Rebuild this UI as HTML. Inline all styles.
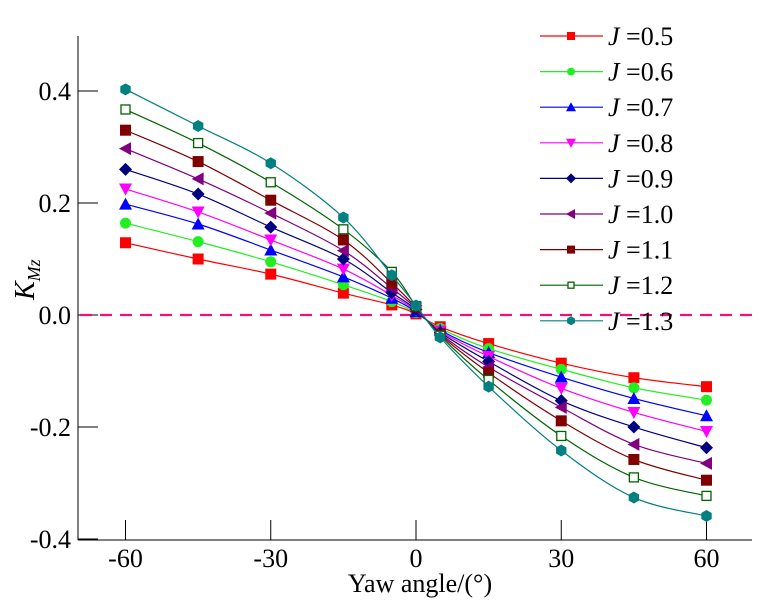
<!DOCTYPE html>
<html><head><meta charset="utf-8"><style>
body{margin:0;background:#fff}
svg{display:block}
text{font-family:"Liberation Serif","DejaVu Serif",serif}
</style></head><body>
<svg id="c" width="771" height="615" viewBox="0 0 771 615" font-family="Liberation Serif, serif"></svg>
<script>
const angles=[-60,-45,-30,-15,-5,0,5,15,30,45,60];
const labels=["0.5","0.6","0.7","0.8","0.9","1.0","1.1","1.2","1.3"];
const s05=[0.129,0.100,0.073,0.039,0.018,0.002,-0.021,-0.051,-0.086,-0.112,-0.128];
const s06=[0.164,0.131,0.095,0.054,0.024,0.004,-0.024,-0.060,-0.097,-0.130,-0.152];
const s07=[0.198,0.1625,0.116,0.068,0.030,0.006,-0.027,-0.067,-0.111,-0.149,-0.180];
const s08=[0.225,0.184,0.134,0.082,0.035,0.008,-0.029,-0.074,-0.131,-0.174,-0.208];
const s09=[0.260,0.216,0.157,0.100,0.040,0.010,-0.031,-0.083,-0.153,-0.200,-0.237];
const s10=[0.297,0.243,0.182,0.115,0.048,0.012,-0.033,-0.093,-0.165,-0.231,-0.265];
const s11=[0.330,0.274,0.205,0.134,0.057,0.014,-0.035,-0.103,-0.189,-0.258,-0.295];
const s12=[0.367,0.307,0.237,0.153,0.077,0.016,-0.037,-0.116,-0.216,-0.290,-0.323];
const s13=[0.403,0.3375,0.271,0.174,0.071,0.017,-0.040,-0.128,-0.242,-0.326,-0.359];
const series=[s05,s06,s07,s08,s09,s10,s11,s12,s13];
const xTicks=[-60,-30,0,30,60];
const yTicks=[0.4,0.2,0.0,-0.2,-0.4];
const yTickLabels=["0.4","0.2","0.0","-0.2","-0.4"];
const colors=["#ff0000","#22ee22","#0000ff","#ff00ff","#000080","#800080","#800000","#006400","#008080"];
const shapes=["square","circle","up","down","diamond","left","square","osquare","hex"];
const X=v=>416+v*(290.5/60);
const Y=v=>315-v*560;
const NS="http://www.w3.org/2000/svg";
const svg=document.getElementById('c');
function mk(t,a,p){const e=document.createElementNS(NS,t);for(const k in a)e.setAttribute(k,a[k]);(p||svg).appendChild(e);return e;}
let ax=mk('line',{x1:78,y1:36,x2:78,y2:540,stroke:'#000','stroke-width':1});


let bx=mk('line',{x1:78,y1:540,x2:752,y2:540,stroke:'#000','stroke-width':1});


xTicks.forEach(t=>{
 const l=mk('line',{x1:X(t),y1:540,x2:X(t),y2:520,stroke:'#000'});
 
 
 const tx=mk('text',{x:X(t),y:567,'text-anchor':'middle','font-size':26});
 tx.textContent=t;
 
 
});
yTicks.forEach((t,i)=>{
 const l=mk('line',{x1:78,y1:Y(t),x2:98,y2:Y(t),stroke:'#000'});
 
 
 const tx=mk('text',{x:71,y:Y(t)+9,'text-anchor':'end','font-size':26});
 tx.textContent=yTickLabels[i];
 
 
});
let zl=mk('line',{x1:80,y1:Y(0),x2:752,y2:Y(0),stroke:'#ee1177','stroke-width':2.2,'stroke-dasharray':'12,8'});


let xt=mk('text',{x:420,y:592,'text-anchor':'middle','font-size':26});
xt.textContent='Yaw angle/(°)';


let yt=mk('text',{x:0,y:0,'font-size':28,'font-style':'italic',transform:'translate(34,300) rotate(-90)'});
yt.innerHTML='K<tspan font-size="18" dy="6">Mz</tspan>';


function marker(shape,x,y,c,g,s){
 s=s||5.5;let e;
 if(shape=='square')e=mk('rect',{x:x-s,y:y-s,width:2*s,height:2*s,fill:c},g);
 else if(shape=='osquare')e=mk('rect',{x:x-s+1,y:y-s+1,width:2*s-2,height:2*s-2,fill:'#fff',stroke:c,'stroke-width':1.3},g);
 else if(shape=='circle')e=mk('circle',{cx:x,cy:y,r:s,fill:c},g);
 else if(shape=='hex'){const p=[];for(let k=0;k<6;k++){const a=Math.PI/6+k*Math.PI/3;p.push((x+(s+0.5)*Math.cos(a))+','+(y+(s+0.5)*Math.sin(a)));}e=mk('polygon',{points:p.join(' '),fill:c},g);}
 else if(shape=='up')e=mk('polygon',{points:`${x},${y-s-1} ${x-s-1},${y+s} ${x+s+1},${y+s}`,fill:c},g);
 else if(shape=='down')e=mk('polygon',{points:`${x},${y+s+1} ${x-s-1},${y-s} ${x+s+1},${y-s}`,fill:c},g);
 else if(shape=='diamond')e=mk('polygon',{points:`${x},${y-s-1} ${x+s+1},${y} ${x},${y+s+1} ${x-s-1},${y}`,fill:c},g);
 else if(shape=='left')e=mk('polygon',{points:`${x-s-1},${y} ${x+s},${y-s-1} ${x+s},${y+s+1}`,fill:c},g);
 return e;
}
function spline(pts){
 let d=`M${pts[0][0]},${pts[0][1]}`;
 for(let i=0;i<pts.length-1;i++){
  const p0=pts[Math.max(i-1,0)],p1=pts[i],p2=pts[i+1],p3=pts[Math.min(i+2,pts.length-1)];
  const c1=[p1[0]+(p2[0]-p0[0])/6,p1[1]+(p2[1]-p0[1])/6];
  const c2=[p2[0]-(p3[0]-p1[0])/6,p2[1]-(p3[1]-p1[1])/6];
  d+=` C${c1[0]},${c1[1]} ${c2[0]},${c2[1]} ${p2[0]},${p2[1]}`;
 }
 return d;
}
series.forEach((vals,si)=>{
 const g=mk('g',{});
 
 
 const pts=vals.map((v,i)=>[X(angles[i]),Y(v)]);
 mk('path',{d:spline(pts),fill:'none',stroke:colors[si],'stroke-width':1.2},g);
 pts.forEach(p=>{
  const m=marker(shapes[si],p[0],p[1],colors[si],g);
  
  
 });
});
labels.forEach((lb,i)=>{
 const g=mk('g',{});
 
 
 const y=36+i*35.6;
 mk('line',{x1:540,y1:y,x2:603,y2:y,stroke:colors[i],'stroke-width':1.2},g);
 marker(shapes[i],571,y,colors[i],g,4);
 const t=mk('text',{x:608,y:y+9,'font-size':26},g);
 t.innerHTML='<tspan font-style="italic">J</tspan> =' + lb;
});
</script>
</body></html>
